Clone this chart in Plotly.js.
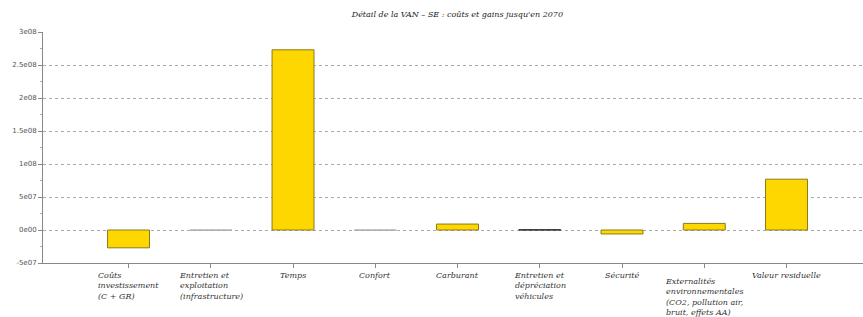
<!DOCTYPE html>
<html><head><meta charset="utf-8">
<script src="https://cdn.plot.ly/plotly-3.0.1.min.js"></script>
<style>body{margin:0;background:#fff}#c{width:863px;height:317px}</style>
</head><body><div id="c"></div>
<script>
const categories = [
  "Coûts<br>investissement<br>(C + GR)",
  "Entretien et<br>exploitation<br>(infrastructure)",
  "Temps",
  "Confort",
  "Carburant",
  "Entretien et<br>dépréciation<br>véhicules",
  "Sécurité",
  "Externalités<br>environnementales<br>(CO2, pollution air,<br>bruit, effets AA)",
  "Valeur residuelle"
];
const values = [-2.7e7, -2e5, 2.73e8, -2e5, 9e6, 3e5, -6e6, 1e7, 7.7e7];
const outlineColors = ["#8a7a1a","#aaaaaa","#8a7a1a","#aaaaaa","#8a7a1a","#222222","#8a7a1a","#8a7a1a","#8a7a1a"];
const yTickVals = [-5e7, 0, 5e7, 1e8, 1.5e8, 2e8, 2.5e8, 3e8];
const yTickText = ["-5e07","0e00","5e07","1e08","1.5e08","2e08","2.5e08","3e08"];
const titleText = "Détail de la VAN – SE : coûts et gains jusqu'en 2070";

const idx = categories.map((_, i) => i);
const serif = "DejaVu Serif, Liberation Serif, serif";

const trace = {
  type: "bar", x: idx, y: values, width: 0.51,
  marker: {color: "#FFD700", line: {color: outlineColors, width: 1}},
  hoverinfo: "none"
};

const annotations = categories.map((c, i) => ({
  x: i, xref: "x", y: i === 7 ? -0.05 : -0.028, yref: "paper",
  xanchor: "center", yanchor: "top", align: "left", showarrow: false,
  text: "<i>" + c + "</i>", font: {family: serif, size: 8, color: "#333"}
}));

const layout = {
  width: 863, height: 317,
  margin: {l: 43, r: 0, t: 32, b: 54},
  paper_bgcolor: "#fff", plot_bgcolor: "#fff",
  showlegend: false,
  title: {text: "<i>" + titleText + "</i>", x: 0.53, xanchor: "center", y: 0.955, yanchor: "middle",
          font: {family: serif, size: 8, color: "#222"}},
  xaxis: {range: [-1.04, 8.93], tickvals: idx, ticktext: idx.map(() => ""), ticks: "outside", ticklen: 4,
          tickcolor: "#888", showline: true, linecolor: "#888", linewidth: 1, showgrid: false, zeroline: false,
          fixedrange: true},
  yaxis: {range: [-5e7, 3e8], tickvals: yTickVals, ticktext: yTickText, ticks: "outside", ticklen: 4,
          tickcolor: "#888", showline: true, linecolor: "#888", linewidth: 1,
          showgrid: true, gridcolor: "#aaa", griddash: "dot", gridwidth: 1, zeroline: false,
          tickfont: {family: "DejaVu Sans, sans-serif", size: 7, color: "#555"},
          minor: {tickvals: [-2.5e7, 2.5e7, 7.5e7, 1.25e8, 1.75e8, 2.25e8, 2.75e8], ticks: "outside", ticklen: 2, tickcolor: "#aaa", showgrid: false},
          fixedrange: true},
  annotations: annotations
};
Plotly.newPlot("c", [trace], layout, {displayModeBar: false, staticPlot: true});
</script></body></html>
